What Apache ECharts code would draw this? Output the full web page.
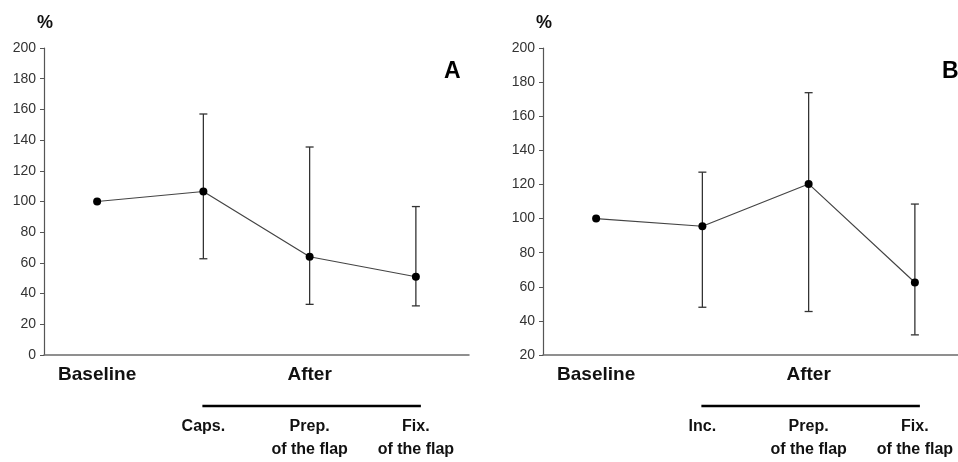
<!DOCTYPE html>
<html><head><meta charset="utf-8">
<script src="https://cdn.jsdelivr.net/npm/echarts@6/dist/echarts.min.js"></script>
<style>html,body{margin:0;padding:0;background:#fff;overflow:hidden}#c{width:975px;height:462px}</style>
</head><body><div id="c"></div>
<script>
// Panel A
const catsA = ['Baseline', 'Caps.', 'Prep.\nof the flap', 'Fix.\nof the flap'];
const meanA = [100, 106.5, 64, 51];
const lowA  = [null, 62.7, 33, 32];
const highA = [null, 157, 135.5, 96.7];
// Panel B
const catsB = ['Baseline', 'Inc.', 'Prep.\nof the flap', 'Fix.\nof the flap'];
const meanB = [100, 95.5, 120.3, 62.5];
const lowB  = [null, 48, 45.5, 31.8];
const highB = [null, 127.2, 173.8, 108.5];
const groupTop = ['Baseline', '', 'After', ''];
const yTicksA = {min: 0, max: 200, interval: 20};
const yTicksB = {min: 20, max: 200, interval: 20};

const FONT = '"Liberation Sans", Arial, sans-serif';
const grids = [
  {left: 44, top: 48, width: 425, height: 307},
  {left: 543, top: 48, width: 425, height: 307}
];
function xAxes(cats, gi) {
  return [{
    type: 'category', gridIndex: gi, data: groupTop, position: 'bottom',
    axisLine: {lineStyle: {color: '#6b6b6b', width: 1.5}},
    axisTick: {show: false},
    axisLabel: {margin: 10, fontFamily: FONT, fontWeight: 'bold', fontSize: 19, color: '#111'}
  }, {
    type: 'category', gridIndex: gi, data: cats.map((c, i) => i === 0 ? '' : c), position: 'bottom',
    offset: 60,
    axisLine: {show: false}, axisTick: {show: false},
    axisLabel: {margin: 0, fontFamily: FONT, fontWeight: 'bold', fontSize: 16, color: '#111', lineHeight: 23}
  }];
}
function yAxis(t, gi) {
  return {
    type: 'value', gridIndex: gi, min: t.min, max: t.max, interval: t.interval,
    name: '%', nameLocation: 'end', nameGap: 16,
    nameTextStyle: {fontFamily: FONT, fontWeight: 'bold', fontSize: 18, color: '#111', align: 'left', padding: [0,0,0,-7]},
    splitLine: {show: false},
    axisLine: {show: true, lineStyle: {color: '#555', width: 1.2}},
    axisTick: {show: true, length: 4, lineStyle: {color: '#555'}},
    axisLabel: {margin: 8, fontFamily: FONT, fontSize: 14, color: '#333'}
  };
}
function errSeries(low, high, xi, yi) {
  const data = [];
  low.forEach((l, i) => { if (l !== null) data.push([i, l, high[i]]); });
  return {
    type: 'custom', xAxisIndex: xi, yAxisIndex: yi, data: data, z: 1,
    renderItem: function (params, api) {
      const x = api.value(0);
      const lo = api.coord([x, api.value(1)]);
      const hi = api.coord([x, api.value(2)]);
      const w = 4;
      const st = {stroke: '#333', lineWidth: 1.3};
      return {type: 'group', children: [
        {type: 'line', shape: {x1: lo[0], y1: lo[1], x2: hi[0], y2: hi[1]}, style: st},
        {type: 'line', shape: {x1: hi[0]-w, y1: hi[1], x2: hi[0]+w, y2: hi[1]}, style: st},
        {type: 'line', shape: {x1: lo[0]-w, y1: lo[1], x2: lo[0]+w, y2: lo[1]}, style: st}
      ]};
    }
  };
}
function lineSeries(mean, xi, yi) {
  return {
    type: 'line', xAxisIndex: xi, yAxisIndex: yi, data: mean, z: 3,
    symbol: 'circle', symbolSize: 8, itemStyle: {color: '#000'},
    lineStyle: {color: '#444', width: 1.2}, animation: false
  };
}
const chart = echarts.init(document.getElementById('c'));
chart.setOption({
  animation: false,
  grid: grids,
  xAxis: [...xAxes(catsA, 0), ...xAxes(catsB, 1)],
  yAxis: [yAxis(yTicksA, 0), yAxis(yTicksB, 1)],
  series: [
    errSeries(lowA, highA, 0, 0), lineSeries(meanA, 0, 0),
    errSeries(lowB, highB, 2, 1), lineSeries(meanB, 2, 1)
  ]
});
// decoration: "After" bracket lines and panel letters
function bracket(xi) {
  const p1 = chart.convertToPixel({xAxisIndex: xi}, 1);
  const p2 = chart.convertToPixel({xAxisIndex: xi}, 3);
  return {type: 'line', shape: {x1: p1 - 1, y1: 406, x2: p2 + 5, y2: 406},
          style: {stroke: '#000', lineWidth: 2.5}};
}
chart.setOption({graphic: [
  bracket(0), bracket(2),
  {type: 'text', left: 444, top: 60, style: {text: 'A', font: 'bold 23px ' + FONT, fill: '#000'}},
  {type: 'text', left: 942, top: 60, style: {text: 'B', font: 'bold 23px ' + FONT, fill: '#000'}}
]});
</script></body></html>
